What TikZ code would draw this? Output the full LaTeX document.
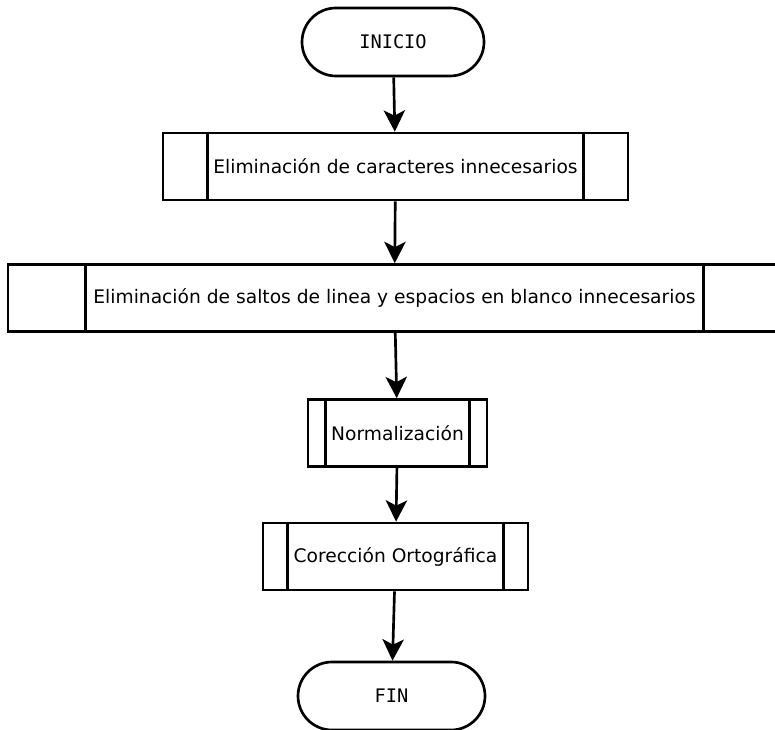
\documentclass[tikz,border=0pt]{standalone}
\usepackage{fontspec}
\setmainfont{DejaVu Sans}
\newfontfamily\termfont{DejaVu Sans Mono}
\usetikzlibrary{shapes.misc,arrows.meta}

\tikzset{
    proc/.style={draw, line width=2pt, rectangle, inner sep=0pt,
        minimum height=50.25pt, font=\fontsize{14}{16}\selectfont},
    term/.style={draw, line width=2pt, rounded rectangle, inner sep=0pt,
        minimum height=51pt, font=\termfont\fontsize{14}{16}\selectfont},
    flow/.style={line width=2pt, -{Stealth[length=16pt,width=16pt,inset=4pt]}}
}

\begin{document}
\begin{tikzpicture}[x=0.75pt,y=-0.75pt]
    \useasboundingbox (0,0) rectangle (775,730);

    \node[term, minimum width=136.5pt] (inicio) at (393,42) {INICIO};
    \node[proc, minimum width=348.75pt] (caract) at (395.5,166.5) {Eliminación de caracteres innecesarios};
    \node[proc, minimum width=580pt] (saltos) at (394.5,298) {Eliminación de saltos de linea y espacios en blanco innecesarios};
    \node[proc, minimum width=134.25pt] (norm) at (397.5,433) {Normalización};
    \node[proc, minimum width=198.75pt] (orto) at (395.5,556.5) {Corección Ortográfica};
    \node[term, minimum width=140.25pt] (fin) at (391.5,696) {FIN};

    % side bars of the process boxes
    \foreach \n/\d in {caract/34.5pt, saltos/59.25pt, norm/14.25pt, orto/19.5pt} {
        \draw[line width=2pt] ([xshift=\d]\n.north west) -- ([xshift=\d]\n.south west);
        \draw[line width=2pt] ([xshift=-\d]\n.north east) -- ([xshift=-\d]\n.south east);
    }

    \draw[flow] (inicio) -- (caract);
    \draw[flow] (caract) -- (saltos);
    \draw[flow] (saltos) -- (norm);
    \draw[flow] (norm) -- (orto);
    \draw[flow] (orto) -- (fin);

\end{tikzpicture}
\end{document}
